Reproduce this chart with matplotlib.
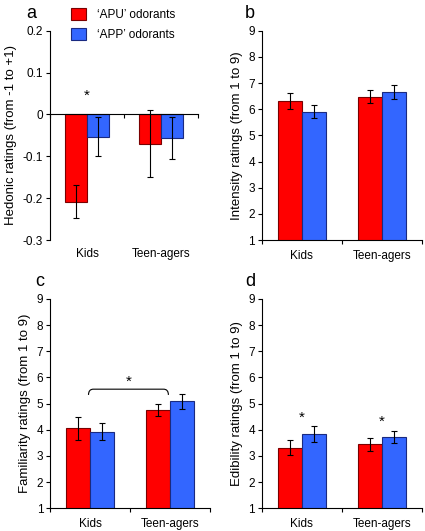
import matplotlib.pyplot as plt
from matplotlib.path import Path
from matplotlib.patches import PathPatch
from matplotlib.transforms import blended_transform_factory
import numpy as np

plt.rcParams['font.family'] = ['Liberation Sans', 'DejaVu Sans']

groups = ["Kids", "Teen-agers"]
series = ["\u2018APU\u2019 odorants", "\u2018APP\u2019 odorants"]

# panel a: hedonic
hed_apu = [-0.208, -0.070]
hed_apu_err = [0.040, 0.080]
hed_app = [-0.053, -0.056]
hed_app_err = [0.047, 0.050]

# panel b: intensity
int_apu = [6.33, 6.47]
int_apu_err = [0.31, 0.25]
int_app = [5.90, 6.65]
int_app_err = [0.25, 0.27]

# panel c: familiarity
fam_apu = [4.05, 4.77]
fam_apu_err = [0.44, 0.23]
fam_app = [3.93, 5.08]
fam_app_err = [0.33, 0.30]

# panel d: edibility
edi_apu = [3.31, 3.44]
edi_apu_err = [0.28, 0.25]
edi_app = [3.85, 3.73]
edi_app_err = [0.31, 0.23]

RED = "#ff0000"
BLUE = "#3366ff"
RED_EDGE = "#7a0000"
BLUE_EDGE = "#1a2a80"
W = 0.3


def draw_bars(ax, apu, apu_err, app, app_err):
    x = np.arange(len(groups))
    b1 = ax.bar(x - W / 2, apu, W, color=RED, edgecolor=RED_EDGE, linewidth=0.8,
                yerr=apu_err, error_kw=dict(ecolor="black", elinewidth=0.8, capsize=2.5, capthick=0.8))
    b2 = ax.bar(x + W / 2, app, W, color=BLUE, edgecolor=BLUE_EDGE, linewidth=0.8,
                yerr=app_err, error_kw=dict(ecolor="black", elinewidth=0.8, capsize=2.5, capthick=0.8))
    return b1, b2


def style(ax, ylabel, label, lx):
    for s in ["top", "right"]:
        ax.spines[s].set_visible(False)
    ax.spines["left"].set_linewidth(0.8)
    ax.spines["bottom"].set_linewidth(0.8)
    ax.set_xlim(-0.5, 1.5)
    ax.set_xticks([-0.5, 0.5, 1.5])
    ax.set_xticklabels([])
    ax.set_xticks([0, 1], minor=True)
    ax.set_xticklabels(groups, minor=True)
    ax.tick_params(axis="x", which="major", direction="out", length=3, width=0.8)
    ax.tick_params(axis="x", which="minor", length=0, labelsize=8.5, pad=7)
    ax.tick_params(axis="y", direction="out", length=3, width=0.8, labelsize=8.5, pad=2)
    ax.set_ylabel(ylabel, fontsize=9.5, labelpad=4)
    ax.text(lx, 1.06, label, transform=ax.transAxes, fontsize=13, ha="center", va="baseline")


fig = plt.figure(figsize=(4.25, 5.31), dpi=100)
ax_a = fig.add_axes([0.118, 0.548, 0.348, 0.394])
ax_b = fig.add_axes([0.616, 0.548, 0.376, 0.394])
ax_c = fig.add_axes([0.118, 0.043, 0.376, 0.394])
ax_d = fig.add_axes([0.616, 0.043, 0.376, 0.394])

# a
b1, b2 = draw_bars(ax_a, hed_apu, hed_apu_err, hed_app, hed_app_err)
style(ax_a, "Hedonic ratings (from -1 to +1)", "a", -0.13)
ax_a.set_ylim(-0.3, 0.2)
ax_a.set_yticks([-0.3, -0.2, -0.1, 0, 0.1, 0.2])
ax_a.set_yticklabels(["-0.3", "-0.2", "-0.1", "0", "0.1", "0.2"])
ax_a.spines["bottom"].set_position(("data", 0))
ax_a.set_xticklabels([], minor=True)
tr = blended_transform_factory(ax_a.transData, ax_a.transAxes)
for i, g in enumerate(groups):
    ax_a.text(i, -0.04, g, transform=tr, ha="center", va="top", fontsize=8.5)
ax_a.text(0, 0.045, "*", ha="center", va="center", fontsize=11)
ax_a.legend([b1, b2], series, loc="upper left", bbox_to_anchor=(0.11, 1.13),
            frameon=False, fontsize=8.5, handlelength=1.3, handleheight=1.2,
            handletextpad=0.9, labelspacing=0.55, borderaxespad=0)

# b
draw_bars(ax_b, int_apu, int_apu_err, int_app, int_app_err)
style(ax_b, "Intensity ratings (from 1 to 9)", "b", -0.075)
ax_b.set_ylim(1, 9)
ax_b.set_yticks(range(1, 10))

# c
draw_bars(ax_c, fam_apu, fam_apu_err, fam_app, fam_app_err)
style(ax_c, "Familiarity ratings (from 1 to 9)", "c", -0.065)
ax_c.set_ylim(1, 9)
ax_c.set_yticks(range(1, 10))
top, low, r = 5.55, 5.33, 0.06
x0, x1 = 0 - 0.02, 1 - 0.02
verts = [(x0, low), (x0, top), (x0 + r, top), (x1 - r, top), (x1, top), (x1, low)]
codes = [Path.MOVETO, Path.CURVE3, Path.CURVE3, Path.LINETO, Path.CURVE3, Path.CURVE3]
ax_c.add_patch(PathPatch(Path(verts, codes), fill=False, lw=0.8, edgecolor="black"))
ax_c.text((x0 + x1) / 2, 5.85, "*", ha="center", va="center", fontsize=11)

# d
draw_bars(ax_d, edi_apu, edi_apu_err, edi_app, edi_app_err)
style(ax_d, "Edibility ratings (from 1 to 9)", "d", -0.075)
ax_d.set_ylim(1, 9)
ax_d.set_yticks(range(1, 10))
ax_d.text(0, 4.45, "*", ha="center", va="center", fontsize=11)
ax_d.text(1, 4.3, "*", ha="center", va="center", fontsize=11)

fig.savefig("out.png", dpi=100)
